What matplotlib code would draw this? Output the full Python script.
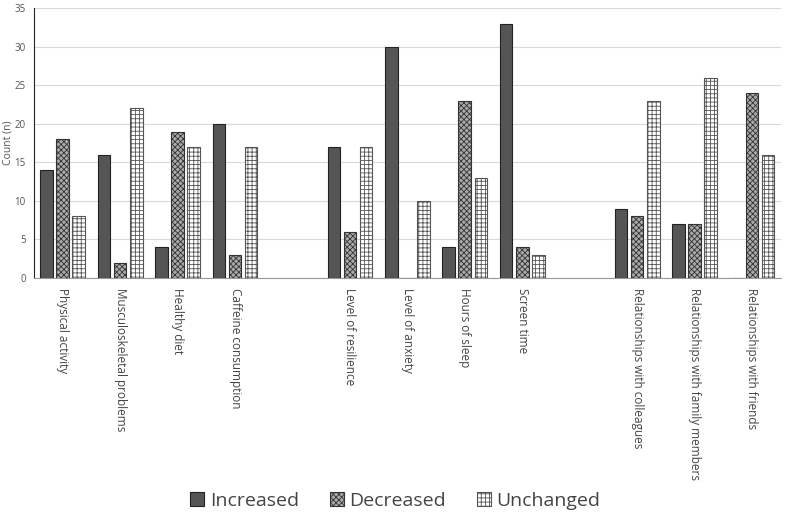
import matplotlib.pyplot as plt
import numpy as np

categories = ["Physical activity", "Musculoskeletal problems", "Healthy diet",
              "Caffeine consumption", None, "Level of resilience", "Level of anxiety",
              "Hours of sleep", "Screen time", None, "Relationships with colleagues",
              "Relationships with family members", "Relationships with friends"]
increased = [14, 16, 4, 20, None, 17, 30, 4, 33, None, 9, 7, 0]
decreased = [18, 2, 19, 3, None, 6, 0, 23, 4, None, 8, 7, 24]
unchanged = [8, 22, 17, 17, None, 17, 10, 13, 3, None, 23, 26, 16]

plt.rcParams['font.family'] = ['Open Sans', 'DejaVu Sans']
plt.rcParams['hatch.linewidth'] = 0.6

fig = plt.figure(figsize=(7.91, 5.13), dpi=100)
ax = fig.add_axes([0.043, 0.458, 0.944, 0.526])

x = np.arange(len(categories))
idx = [i for i, c in enumerate(categories) if c is not None]
w = 0.22
off = 0.28

def vals(s):
    return [s[i] for i in idx]

xi = x[idx]
ax.bar(xi - off, vals(increased), w, color="#555555", edgecolor="#222222",
       linewidth=0.8, label="Increased", zorder=3)
plt.rcParams['hatch.color'] = "#444444"
ax.bar(xi, vals(decreased), w, color="#aaaaaa", edgecolor="#333333",
       hatch="xxxxxx", linewidth=0.8, label="Decreased", zorder=3)
ax.bar(xi + off, vals(unchanged), w, color="white", edgecolor="#555555",
       hatch="++++", linewidth=0.8, label="Unchanged", zorder=3)

ax.set_xlim(-0.5, len(categories) - 0.5)
ax.set_ylim(0, 35)
ax.set_yticks(range(0, 36, 5))
ax.tick_params(axis='y', labelsize=7, colors="#555555", length=0, pad=6)
ax.set_ylabel("Count (n)", fontsize=7.5, color="#555555", labelpad=1)
ax.yaxis.grid(True, color="#d9d9d9", linewidth=0.8, zorder=0)

ax.set_xticks(xi)
ax.set_xticklabels(vals(categories), rotation=270, fontsize=8.5, color="#444444",
                   ha="center", va="top")
ax.tick_params(axis='x', length=0, pad=7)

for s in ["top", "right"]:
    ax.spines[s].set_visible(False)
ax.spines["left"].set_color("#222222")
ax.spines["bottom"].set_color("#999999")

fig.legend(loc="lower center", ncol=3, frameon=False, fontsize=14,
           bbox_to_anchor=(0.5, -0.028), handlelength=0.7, handleheight=0.7,
           columnspacing=1.6, handletextpad=0.3, labelcolor="#444444")

fig.savefig("out.png", dpi=100)
